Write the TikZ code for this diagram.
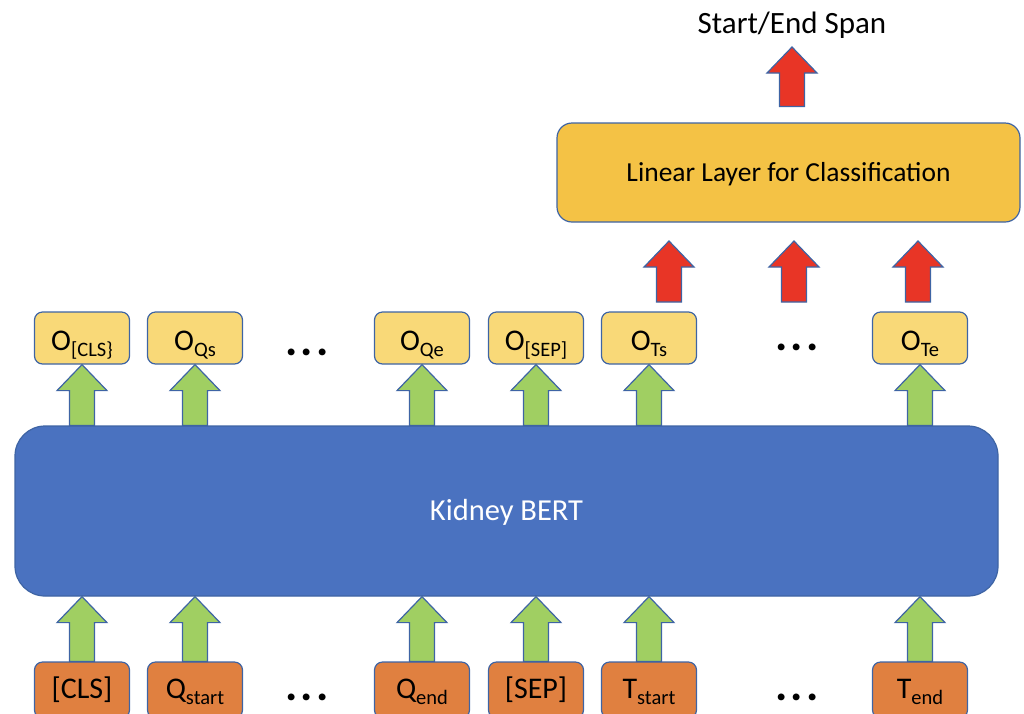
\documentclass[tikz,border=0pt]{standalone}
\usepackage{fontspec}
\setmainfont{Carlito}
\usetikzlibrary{calc}

\definecolor{edge}{HTML}{3E64A4}
\definecolor{lightgold}{HTML}{F9D978}
\definecolor{gold}{HTML}{F4C245}
\definecolor{bertblue}{HTML}{4A72C0}
\definecolor{arrowgreen}{HTML}{A0CF62}
\definecolor{arrowred}{HTML}{E83526}
\definecolor{tokenorange}{HTML}{E08040}

\tikzset{
  outbox/.style={draw=edge, fill=lightgold, line width=1.2pt, rounded corners=8pt,
    minimum width=95pt, minimum height=52pt, inner sep=0pt,
    text height=27pt, text depth=2pt, font=\fontsize{30}{32}\selectfont},
  inbox/.style={outbox, fill=tokenorange, minimum height=56pt,
    text height=22pt, text depth=5.6pt},
  dotsnode/.style={font=\fontsize{46}{46}\selectfont\bfseries, inner sep=0pt},
  fat/.style={draw=edge, line width=1.2pt, line join=miter},
}
\newcommand{\lowtext}[1]{\raisebox{-0.45ex}{\fontsize{20.5}{22}\selectfont #1}}
\newcommand{\threedots}{.\kern3pt.\kern3pt.}
% block arrow: bottom point, tip point, colour
\newcommand{\fatarrow}[3]{%
  \filldraw[fat, fill=#3] let \p1=(#1), \p2=(#2) in
    (\x1-12.5pt,\y1) -- (\x1-12.5pt,\y2-26pt) -- (\x1-25pt,\y2-26pt) -- (\x1,\y2)
    -- (\x1+25pt,\y2-26pt) -- (\x1+12.5pt,\y2-26pt) -- (\x1+12.5pt,\y1) -- cycle;}

\begin{document}
\begin{tikzpicture}[x=1pt, y=-1pt]
\useasboundingbox (0,0) rectangle (1024,713);

% encoder
\node[draw=edge, fill=bertblue, line width=1.2pt, rounded corners=30pt,
  minimum width=983pt, minimum height=170pt, text=white,
  text height=19.6pt, text depth=0pt,
  font=\fontsize{30.5}{32}\selectfont] (bert) at (506.5,511) {Kidney BERT};

% outputs
\node[outbox] (ocls) at (82,338)  {O\lowtext{[CLS\}}};
\node[outbox] (oqs)  at (195,338) {O\lowtext{Qs}};
\node[outbox] (oqe)  at (422,338) {O\lowtext{Qe}};
\node[outbox] (osep) at (536,338) {O\lowtext{[SEP]}};
\node[outbox] (ots)  at (649,338) {O\lowtext{Ts}};
\node[outbox] (ote)  at (920,338) {O\lowtext{Te}};
\node[dotsnode] (odots1) at (307,352) {\threedots};
\node[dotsnode] (odots2) at (797,347) {\threedots};

% inputs
\node[inbox] (icls) at (82,690)  {[CLS]};
\node[inbox] (iqs)  at (195,690) {Q\lowtext{start}};
\node[inbox] (iqe)  at (422,690) {Q\lowtext{end}};
\node[inbox] (isep) at (536,690) {[SEP]};
\node[inbox] (its)  at (649,690) {T\lowtext{start}};
\node[inbox] (ite)  at (920,690) {T\lowtext{end}};
\node[dotsnode] (idots1) at (307,697) {\threedots};
\node[dotsnode] (idots2) at (797,697) {\threedots};

% classifier
\node[draw=edge, fill=gold, line width=1.2pt, rounded corners=15pt,
  minimum width=463pt, minimum height=99pt, text height=17.7pt, text depth=-1pt,
  font=\fontsize{27.5}{30}\selectfont] (linear) at (788.5,172.5) {Linear Layer for Classification};
\node[font=\fontsize{31}{32}\selectfont, text height=20pt, text depth=0pt] (span) at (792,23) {Start/End Span};
\coordinate (spantip) at (792,47);

\foreach \k in {cls,qs,qe,sep,ts,te} {
  \fatarrow{i\k.north}{i\k.north |- bert.south}{arrowgreen}
  \fatarrow{o\k.south |- bert.north}{o\k.south}{arrowgreen}
}
\foreach \cx in {669,794,918}
  \fatarrow{\cx,302}{\cx,241}{arrowred};
\fatarrow{$(spantip |- linear.north)+(0,-16)$}{spantip}{arrowred}

\end{tikzpicture}
\end{document}
